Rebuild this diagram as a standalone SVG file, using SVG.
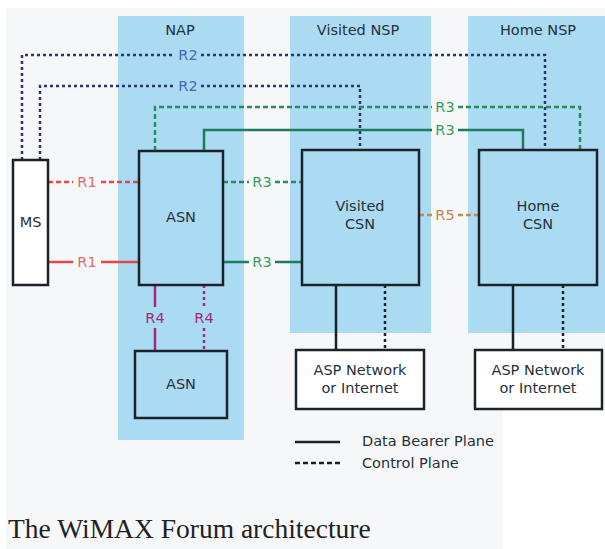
<svg xmlns="http://www.w3.org/2000/svg" width="605" height="549" viewBox="0 0 605 549">
<style>
.col{fill:#abdbf2}
.box{fill:#abdbf2;stroke:#1b2229;stroke-width:2.5}
.wbox{fill:#ffffff;stroke:#1b2229;stroke-width:2.5}
.t{font-family:"DejaVu Sans",Verdana,sans-serif;font-size:14.5px;fill:#26303a;text-anchor:middle}
.lt{font-family:"DejaVu Sans",Verdana,sans-serif;font-size:14.5px;fill:#26303a}
.c{fill:none;stroke-width:2.5}
.d{stroke-dasharray:5,3}
.dot{stroke-dasharray:3,3}
.r2{stroke:#2c3370}
.r3{stroke:#2a8a5c}
.r3s{stroke:#1f7a5e}
.r1{stroke:#e0484a}
.r4{stroke:#a3287f}
.r5{stroke:#c08a50}
.k{stroke:#1b2229}
.lr2{fill:#4c66b8}
.lr3{fill:#3f9a60}
.lr1{fill:#e26a6a}
.lr4{fill:#a3287f}
.lr5{fill:#c08a50}
</style>
<rect x="0" y="0" width="605" height="549" fill="#ffffff"/>
<rect x="6" y="8" width="599" height="402" fill="#f6f7f9"/>
<rect x="6" y="410" width="497" height="139" fill="#f6f7f9"/>
<g id="columns">
<rect class="col" x="118" y="16" width="126" height="424"/>
<rect class="col" x="290" y="16" width="141" height="317"/>
<rect class="col" x="468" y="16" width="137" height="317"/>
<text class="t" x="180" y="35">NAP</text>
<text class="t" x="358" y="35">Visited NSP</text>
<text class="t" x="538" y="35">Home NSP</text>
</g>
<g id="connectors">
<path class="c dot r2" d="M22,160 V55 H175 M201,55 H545 V150"/>
<path class="c dot r2" d="M40,160 V86 H175 M201,86 H360 V150"/>
<path class="c d r3" d="M155,151 V107 H432 M458,107 H580 V150"/>
<path class="c r3s" d="M204,151 V130 H432 M458,130 H523 V150"/>
<path class="c d r1" d="M48,182 H73 M101,182 H139"/>
<path class="c r1" d="M48,262 H73 M101,262 H139"/>
<path class="c d r3" d="M223,182 H249 M275,182 H302"/>
<path class="c r3s" d="M223,262 H249 M275,262 H302"/>
<path class="c d r5" d="M419,215 H432 M458,215 H479"/>
<path class="c r4" d="M155,285 V307 M155,328 V351"/>
<path class="c dot r4" d="M204,285 V307 M204,328 V351"/>
<path class="c k" d="M336,285 V350 M513,285 V350"/>
<path class="c dot k" d="M385,285 V350 M563,285 V350"/>
<text class="t lr2" x="188" y="60">R2</text>
<text class="t lr2" x="188" y="91">R2</text>
<text class="t lr3" x="445" y="112">R3</text>
<text class="t lr3" x="445" y="135">R3</text>
<text class="t lr1" x="87" y="187">R1</text>
<text class="t lr1" x="87" y="267">R1</text>
<text class="t lr3" x="262" y="187">R3</text>
<text class="t lr3" x="262" y="267">R3</text>
<text class="t lr5" x="445" y="220">R5</text>
<text class="t lr4" x="155" y="323">R4</text>
<text class="t lr4" x="204" y="323">R4</text>
</g>
<g id="ms">
<rect class="wbox" x="13" y="160" width="35" height="125"/>
<text class="t" x="30.5" y="227">MS</text>
</g>
<g id="asn">
<rect class="box" x="139" y="151" width="84" height="134"/>
<text class="t" x="181" y="222">ASN</text>
</g>
<g id="visited-csn">
<rect class="box" x="302" y="150" width="117" height="135"/>
<text class="t" x="360" y="211">Visited</text>
<text class="t" x="360" y="229">CSN</text>
</g>
<g id="home-csn">
<rect class="box" x="479" y="150" width="118" height="135"/>
<text class="t" x="538" y="211">Home</text>
<text class="t" x="538" y="229">CSN</text>
</g>
<g id="asn2">
<rect class="box" x="135" y="351" width="92" height="67"/>
<text class="t" x="181" y="389">ASN</text>
</g>
<g id="asp1">
<rect class="wbox" x="296" y="350" width="128" height="59"/>
<text class="t" x="360" y="375">ASP Network</text>
<text class="t" x="360" y="393">or Internet</text>
</g>
<g id="asp2">
<rect class="wbox" x="475" y="350" width="127" height="59"/>
<text class="t" x="538" y="375">ASP Network</text>
<text class="t" x="538" y="393">or Internet</text>
</g>
<g id="legend">
<path class="c k" d="M295,442 H340"/>
<path class="c d k" d="M295,463 H340"/>
<text class="lt" x="362" y="446">Data Bearer Plane</text>
<text class="lt" x="362" y="468">Control Plane</text>
</g>
<text x="8" y="538" font-family="'Liberation Serif','Times New Roman',serif" font-size="27.5" fill="#222222">The WiMAX Forum architecture</text>
</svg>
